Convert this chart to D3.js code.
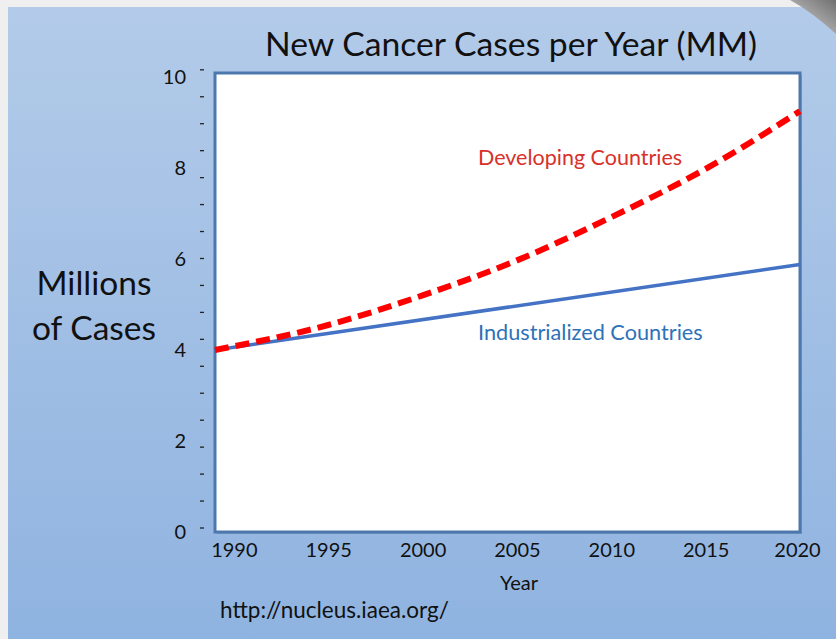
<!DOCTYPE html>
<html>
<head>
<meta charset="utf-8">
<script src="https://cdn.jsdelivr.net/npm/d3@7"></script>
<style>
  html, body { margin: 0; padding: 0; background: #eeeeee; }
  svg { display: block; font-family: Lato, "Open Sans", sans-serif; }
</style>
</head>
<body>
<svg id="chart" width="836" height="639"></svg>
<script>
// values
const years = [1989, 1995, 2000, 2005, 2010, 2015, 2020];
const developing = [4.0, 4.55, 5.2, 5.97, 6.92, 7.98, 9.25];
const industrialYears = [1989, 2020];
const industrialized = [4.0, 5.88];
const yTicks = [0, 2, 4, 6, 8, 10];
const xTicks = [1990, 1995, 2000, 2005, 2010, 2015, 2020];
const dashCount = 18; // the little "-" marks down the y axis

const svg = d3.select('#chart');
const W = 836, H = 639;
const margin = { top: 73, right: 36, bottom: 107, left: 215 };
const width = W - margin.left - margin.right,
  height = H - margin.top - margin.bottom;

// background panel with gradient
const defs = svg.append('defs');
const grad = defs.append('linearGradient')
  .attr('id', 'bg').attr('x1', 0).attr('y1', 0).attr('x2', 0).attr('y2', 1);
grad.append('stop').attr('offset', '0%').attr('stop-color', '#b3cbe9');
grad.append('stop').attr('offset', '100%').attr('stop-color', '#8fb3e0');
const corner = defs.append('linearGradient')
  .attr('id', 'corner').attr('x1', 0).attr('y1', 1).attr('x2', 1).attr('y2', 0);
corner.append('stop').attr('offset', '0%').attr('stop-color', '#d8d8d8');
corner.append('stop').attr('offset', '100%').attr('stop-color', '#707070');

svg.append('rect').attr('width', W).attr('height', H).attr('fill', '#efefef');
svg.append('rect').attr('x', 8).attr('y', 7).attr('width', W - 8).attr('height', H - 7)
  .attr('fill', 'url(#bg)');
svg.append('path').attr('d', 'M790,0 L836,0 L836,34 Q812,12 790,0 Z').attr('fill', 'url(#corner)');

// title
svg.append('text')
  .attr('x', 511).attr('y', 56)
  .attr('text-anchor', 'middle')
  .attr('font-size', 33.7)
  .attr('fill', '#111')
  .text('New Cancer Cases per Year (MM)');

// scales
const x = d3.scaleLinear().domain([1989, 2020]).range([0, width]);
const y = d3.scaleLinear().domain([0, 10]).range([height, 4]);

const g = svg.append('g').attr('transform', `translate(${margin.left},${margin.top})`);

// plot area
g.append('rect')
  .attr('x', 2).attr('y', 2)
  .attr('width', width).attr('height', height)
  .attr('fill', '#5f7fa8').attr('opacity', 0.5);
g.append('rect')
  .attr('width', width).attr('height', height)
  .attr('fill', '#fff')
  .attr('stroke', '#4d78ad').attr('stroke-width', 3);

// y axis labels
const yAxis = g.append('g')
  .attr('transform', 'translate(-12,0)')
  .call(d3.axisLeft(y).tickValues(yTicks).tickSize(0).tickPadding(17));
yAxis.select('.domain').remove();
yAxis.selectAll('text').attr('font-size', 20).attr('fill', '#111')
  .attr('font-family', 'Lato, sans-serif');

// dash marks, evenly spaced (not aligned with the labels, as in the original)
const dashValues = d3.range(dashCount).map(i => i * 10.07 / (dashCount - 1));
g.append('g')
  .selectAll('line')
  .data(dashValues)
  .enter()
  .append('line')
  .attr('x1', -15).attr('x2', -11)
  .attr('y1', d => y(d) - 4).attr('y2', d => y(d) - 4)
  .attr('stroke', '#222').attr('stroke-width', 1.3);

// x axis labels
const xAxis = g.append('g')
  .attr('transform', `translate(0,${height})`)
  .call(d3.axisBottom(x).tickValues(xTicks).tickFormat(d3.format('d')).tickSize(0).tickPadding(11));
xAxis.select('.domain').remove();
xAxis.selectAll('text').attr('font-size', 20).attr('fill', '#111')
  .attr('font-family', 'Lato, sans-serif');
xAxis.select('.tick:last-of-type text').attr('dx', -3);

// axis titles
svg.append('text')
  .attr('x', 519).attr('y', 590)
  .attr('text-anchor', 'middle')
  .attr('font-size', 20).attr('fill', '#111')
  .text('Year');

const ylab = svg.append('text')
  .attr('text-anchor', 'middle')
  .attr('font-size', 33.5).attr('fill', '#111');
ylab.append('tspan').attr('x', 94).attr('y', 295).text('Millions');
ylab.append('tspan').attr('x', 94).attr('y', 340).text('of Cases');

svg.append('text')
  .attr('x', 220).attr('y', 618)
  .attr('font-size', 22.5).attr('fill', '#111')
  .text('http://nucleus.iaea.org/');

// lines
const line = d3.line()
  .x(d => x(d[0]))
  .y(d => y(d[1]))
  .curve(d3.curveMonotoneX);

g.append('path')
  .datum(industrialYears.map((yr, i) => [yr, industrialized[i]]))
  .attr('fill', 'none')
  .attr('stroke', '#4472c4')
  .attr('stroke-width', 3.5)
  .attr('d', line);

g.append('path')
  .datum(years.map((yr, i) => [yr, developing[i]]))
  .attr('fill', 'none')
  .attr('stroke', '#ff0000')
  .attr('stroke-width', 6)
  .attr('stroke-dasharray', '14,7')
  .attr('d', line);

// series labels
svg.append('text')
  .attr('x', 478).attr('y', 165)
  .attr('font-size', 21.5).attr('fill', '#d8302a')
  .text('Developing Countries');
svg.append('text')
  .attr('x', 478).attr('y', 340)
  .attr('font-size', 21.7).attr('fill', '#2e72b8')
  .text('Industrialized Countries');
</script>
</body>
</html>
